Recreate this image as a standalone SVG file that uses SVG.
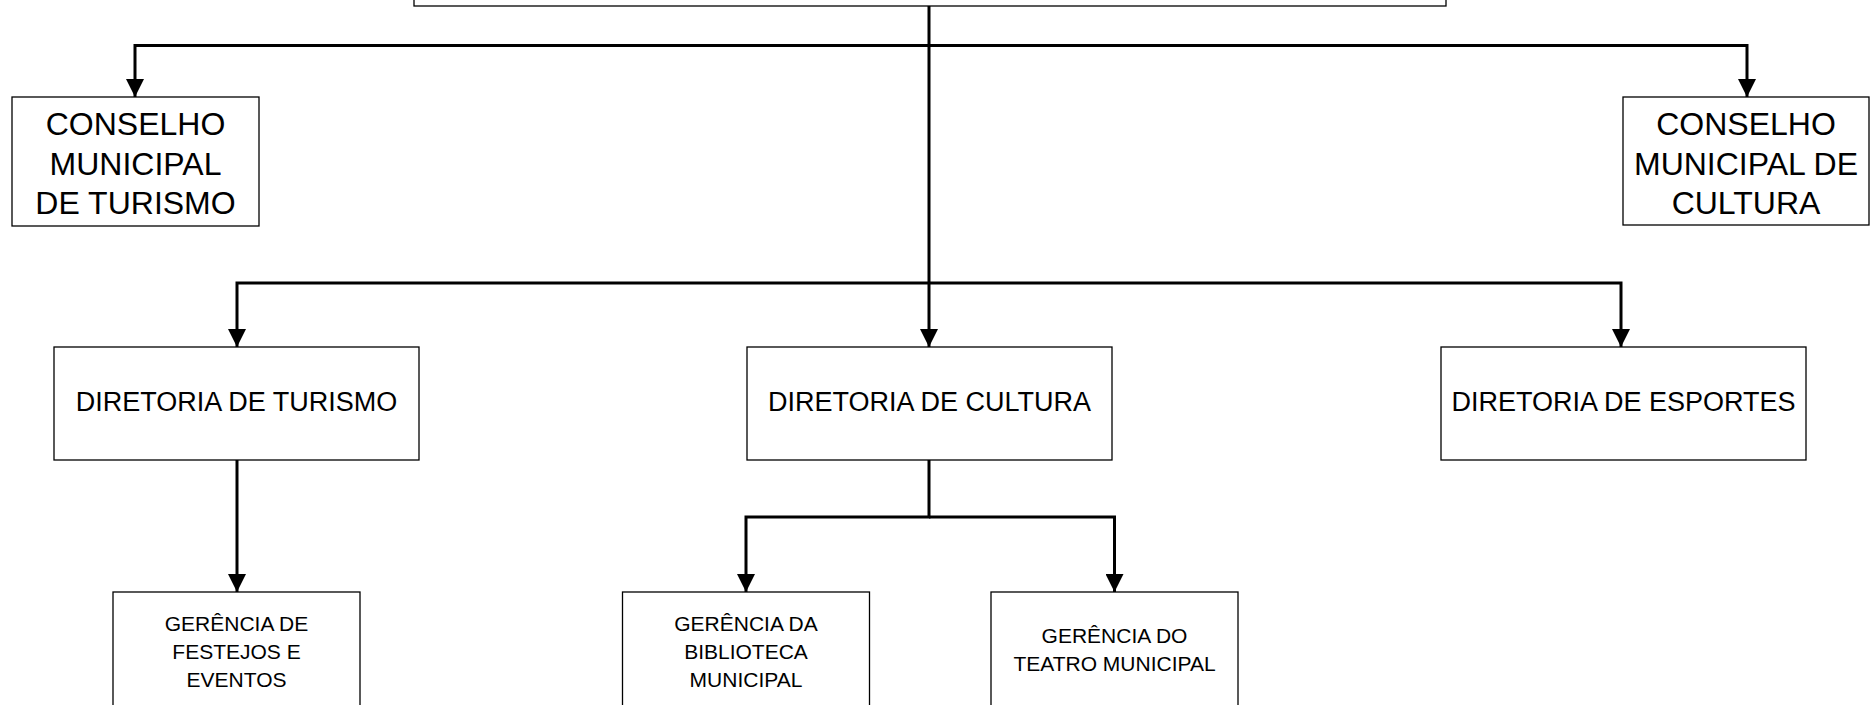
<svg xmlns="http://www.w3.org/2000/svg" width="1871" height="705" viewBox="0 0 1871 705">
<style>
.box{fill:#fff;stroke:#000;stroke-width:1.3}
.c{fill:none;stroke:#000;stroke-width:3}
.t{font-family:"Liberation Sans",Arial,sans-serif;fill:#000;text-anchor:middle}
.big{font-size:32px}
.mid{font-size:27px}
.sm{font-size:21px}
</style>
<defs>
<marker id="ah" viewBox="0 0 18 18" refX="18" refY="9" markerWidth="18" markerHeight="18" markerUnits="userSpaceOnUse" orient="auto">
<path d="M0,0 L18,9 L0,18 Z" fill="#000"/>
</marker>
</defs>
<rect width="1871" height="705" fill="#fff"/>
<g id="connectors">
<path class="c" d="M929,6 V347" marker-end="url(#ah)"/>
<path class="c" d="M929,45.5 H135 V97" marker-end="url(#ah)"/>
<path class="c" d="M929,45.5 H1747 V97" marker-end="url(#ah)"/>
<path class="c" d="M929,283 H237 V347" marker-end="url(#ah)"/>
<path class="c" d="M929,283 H1621 V347" marker-end="url(#ah)"/>
<path class="c" d="M237,460 V592" marker-end="url(#ah)"/>
<path class="c" d="M929,460 V517 H746 V592" marker-end="url(#ah)"/>
<path class="c" d="M929,517 H1114.5 V592" marker-end="url(#ah)"/>
</g>
<g id="top"><rect class="box" x="414" y="-50" width="1032" height="56"/></g>
<g id="cmt">
<rect class="box" x="12" y="97" width="247" height="129"/>
<text class="t big" x="135.5" y="135">CONSELHO</text>
<text class="t big" x="135.5" y="174.5">MUNICIPAL</text>
<text class="t big" x="135.5" y="214">DE TURISMO</text>
</g>
<g id="cmc">
<rect class="box" x="1623" y="97" width="246" height="128"/>
<text class="t big" x="1746" y="135">CONSELHO</text>
<text class="t big" x="1746" y="174.5">MUNICIPAL DE</text>
<text class="t big" x="1746" y="214">CULTURA</text>
</g>
<g id="dt">
<rect class="box" x="54" y="347" width="365" height="113"/>
<text class="t mid" x="236.5" y="411">DIRETORIA DE TURISMO</text>
</g>
<g id="dc">
<rect class="box" x="747" y="347" width="365" height="113"/>
<text class="t mid" x="929.5" y="411">DIRETORIA DE CULTURA</text>
</g>
<g id="de">
<rect class="box" x="1441" y="347" width="365" height="113"/>
<text class="t mid" x="1623.5" y="411">DIRETORIA DE ESPORTES</text>
</g>
<g id="gfe">
<rect class="box" x="113" y="592" width="247" height="130"/>
<text class="t sm" x="236.5" y="631">GERÊNCIA DE</text>
<text class="t sm" x="236.5" y="659">FESTEJOS E</text>
<text class="t sm" x="236.5" y="687">EVENTOS</text>
</g>
<g id="gbm">
<rect class="box" x="622.5" y="592" width="247" height="130"/>
<text class="t sm" x="746" y="631">GERÊNCIA DA</text>
<text class="t sm" x="746" y="659">BIBLIOTECA</text>
<text class="t sm" x="746" y="687">MUNICIPAL</text>
</g>
<g id="gtm">
<rect class="box" x="991" y="592" width="247" height="130"/>
<text class="t sm" x="1114.5" y="643">GERÊNCIA DO</text>
<text class="t sm" x="1114.5" y="671">TEATRO MUNICIPAL</text>
</g>
</svg>
